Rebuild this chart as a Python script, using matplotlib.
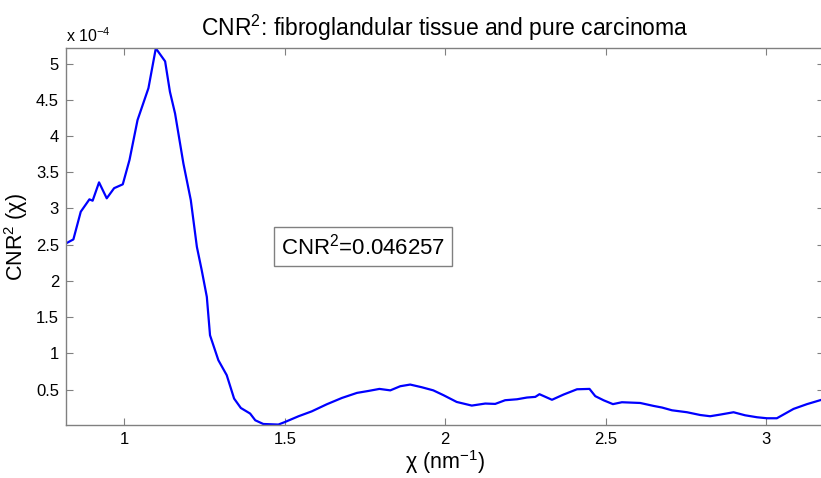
import matplotlib
matplotlib.use("Agg")
import matplotlib.pyplot as plt

plt.rcParams['font.family'] = ['Liberation Sans', 'DejaVu Sans']
plt.rcParams['mathtext.fontset'] = 'custom'
plt.rcParams['mathtext.rm'] = 'Liberation Sans'
plt.rcParams['mathtext.it'] = 'Liberation Sans:italic'

# chi (nm^-1)
chi = [0.818, 0.841, 0.864, 0.891, 0.901, 0.921, 0.945, 0.968, 0.995, 1.016,
       1.041, 1.075, 1.098, 1.127, 1.142, 1.158, 1.184, 1.207, 1.226, 1.241,
       1.257, 1.267, 1.293, 1.319, 1.342, 1.363, 1.392, 1.408, 1.433, 1.480,
       1.501, 1.543, 1.584, 1.631, 1.678, 1.725, 1.761, 1.795, 1.829, 1.860,
       1.891, 1.927, 1.963, 1.995, 2.036, 2.083, 2.125, 2.156, 2.187, 2.224,
       2.255, 2.281, 2.294, 2.333, 2.369, 2.411, 2.450, 2.468, 2.494, 2.523,
       2.551, 2.608, 2.650, 2.676, 2.707, 2.754, 2.795, 2.826, 2.858, 2.899,
       2.935, 2.972, 3.003, 3.034, 3.086, 3.128, 3.175]
# CNR^2 (chi), in units of 1e-4
cnr2 = [2.518, 2.573, 2.955, 3.126, 3.107, 3.360, 3.140, 3.280, 3.333, 3.670,
        4.220, 4.660, 5.210, 5.030, 4.610, 4.310, 3.620, 3.116, 2.470, 2.150,
        1.780, 1.250, 0.906, 0.700, 0.377, 0.247, 0.170, 0.077, 0.026, 0.018,
        0.054, 0.133, 0.200, 0.298, 0.385, 0.455, 0.482, 0.510, 0.490, 0.547,
        0.570, 0.533, 0.490, 0.423, 0.330, 0.280, 0.308, 0.303, 0.354, 0.367,
        0.391, 0.400, 0.437, 0.360, 0.432, 0.505, 0.510, 0.410, 0.353, 0.300,
        0.326, 0.316, 0.275, 0.253, 0.215, 0.188, 0.150, 0.133, 0.156, 0.188,
        0.146, 0.119, 0.105, 0.105, 0.234, 0.300, 0.362]

xticks = [1, 1.5, 2, 2.5, 3]
xtick_labels = ['1', '1.5', '2', '2.5', '3']
yticks = [0.5, 1, 1.5, 2, 2.5, 3, 3.5, 4, 4.5, 5]
ytick_labels = ['0.5', '1', '1.5', '2', '2.5', '3', '3.5', '4', '4.5', '5']
cnr_total = '0.046257'

fig = plt.figure(figsize=(8.21, 4.78), dpi=100)
ax = fig.add_axes([66/821, 1 - 425/478, (824 - 66)/821, (425 - 48.3)/478])
ax.plot(chi, cnr2, color='#0000ff', lw=1.6)
ax.set_xlim(0.818, 3.181)
ax.set_ylim(0.012, 5.21)

ax.set_xticks(xticks)
ax.set_xticklabels(xtick_labels)
ax.set_yticks(yticks)
ax.set_yticklabels(ytick_labels)
grey = '#808080'
for s in ax.spines.values():
    s.set_color(grey)
    s.set_linewidth(1.0)
ax.tick_params(direction='in', length=5, width=0.8, color=grey,
               labelcolor='black', labelsize=12, top=True, right=True, pad=5)

ax.set_title('CNR$^2$: fibroglandular tissue and pure carcinoma', fontsize=16.5, pad=9)
ax.set_xlabel('χ (nm$^{-1}$)', fontsize=15.5, labelpad=1)
ax.set_ylabel('CNR$^2$ (χ)', fontsize=15.5, labelpad=4)

ax.text(0.0, 1.008, r'x 10$^{-4}$', transform=ax.transAxes, fontsize=11.5,
        ha='left', va='bottom')

ax.text(1.488, 2.48, 'CNR$^2$=' + cnr_total, fontsize=16, ha='left', va='center',
        bbox=dict(boxstyle='square,pad=0.3', fc='white', ec=grey, lw=1.0))

fig.savefig('out.png', dpi=100)
